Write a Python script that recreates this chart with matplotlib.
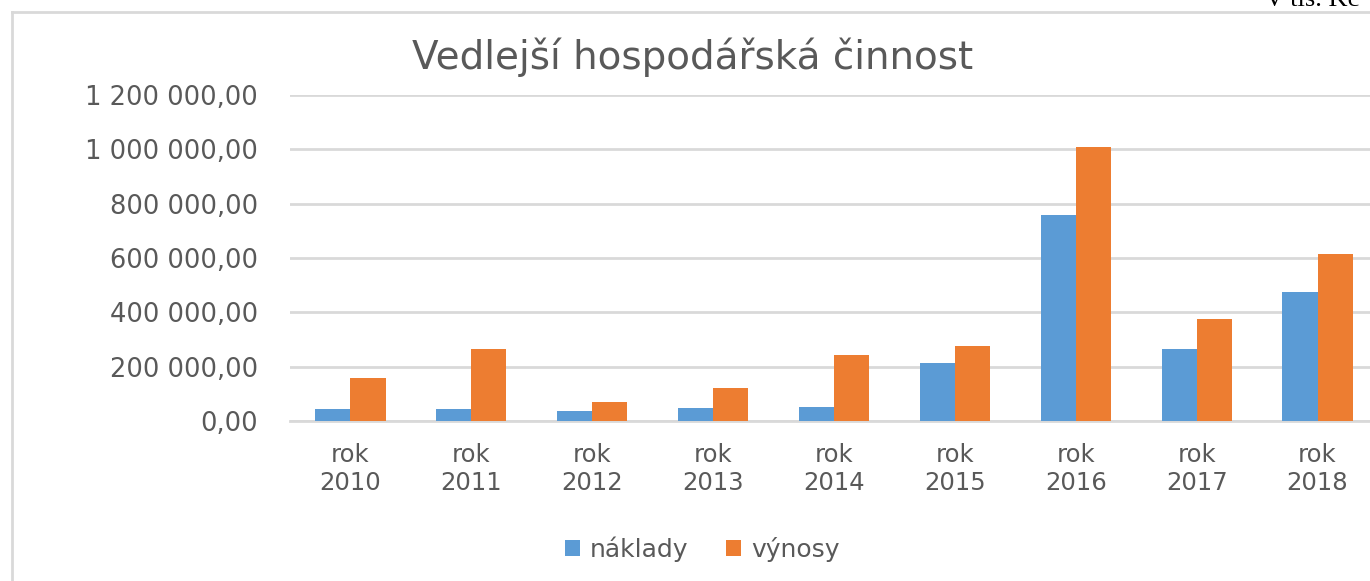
import matplotlib
matplotlib.use("Agg")
import matplotlib.pyplot as plt
from matplotlib.lines import Line2D
import numpy as np

# Data (tis. Kč)
years = ["rok\n2010", "rok\n2011", "rok\n2012", "rok\n2013", "rok\n2014",
         "rok\n2015", "rok\n2016", "rok\n2017", "rok\n2018"]
naklady = [43000, 43000, 37000, 48000, 52000, 215000, 759000, 264000, 476000]
vynosy = [157000, 265000, 71000, 123000, 244000, 277000, 1010000, 376000, 614000]
yticks = [0, 200000, 400000, 600000, 800000, 1000000, 1200000]

BLUE, ORANGE, GRID, TXT = "#5B9BD5", "#ED7D31", "#D9D9D9", "#595959"
FONT = ["DejaVu Sans"]


def cz_fmt(v):
    s = f"{v:,.2f}"
    return s.replace(",", " ").replace(".", ",")


W, H = 1370, 581
fig = plt.figure(figsize=(W / 100, H / 100), dpi=100)
fig.patch.set_facecolor("white")

# chart-area border (left and top edges visible)
fig.add_artist(Line2D([12 / W, 12 / W], [0, 1 - 12 / H], color=GRID, lw=2))
fig.add_artist(Line2D([12 / W, 1], [1 - 12 / H, 1 - 12 / H], color=GRID, lw=2))
fig.text(1265 / W, 1 - 11 / H, "V tis. Kč", family="Liberation Serif", fontsize=19,
         va="bottom", ha="left", color="black")

ax = fig.add_axes([290 / W, 1 - 421 / H, (1378 - 290) / W, (421 - 95) / H])
x = np.arange(len(years))
bw = 0.29
ax.bar(x - bw / 2, naklady, bw, color=BLUE, label="náklady", zorder=3)
ax.bar(x + bw / 2, vynosy, bw, color=ORANGE, label="výnosy", zorder=3)

ax.set_xlim(-0.5, len(years) - 0.5)
ax.set_ylim(0, 1200000)
ax.set_yticks(yticks)
ax.set_yticklabels([cz_fmt(v) for v in yticks], family=FONT, fontsize=18.5, color=TXT)
ax.set_xticks(x)
ax.set_xticklabels(years, family=FONT, fontsize=17.5, color=TXT, linespacing=1.2)
ax.tick_params(length=0)
ax.tick_params(axis="y", pad=23)
ax.tick_params(axis="x", pad=16)
ax.grid(axis="y", color=GRID, lw=2, zorder=0)
for s in ["top", "right", "left"]:
    ax.spines[s].set_visible(False)
ax.spines["bottom"].set_color(GRID)
ax.spines["bottom"].set_linewidth(2)

fig.text(693 / W, 1 - 57 / H, "Vedlejší hospodářská činnost", family=FONT,
         fontsize=28, color=TXT, ha="center", va="center")

leg = fig.legend(loc="center", bbox_to_anchor=(702 / W, 1 - 549 / H), ncol=2,
                 frameon=False, prop={"family": FONT, "size": 18},
                 handlelength=0.6, handleheight=0.6, columnspacing=1.5, handletextpad=0.4)
for t in leg.get_texts():
    t.set_color(TXT)

fig.savefig("out.png", dpi=100)
